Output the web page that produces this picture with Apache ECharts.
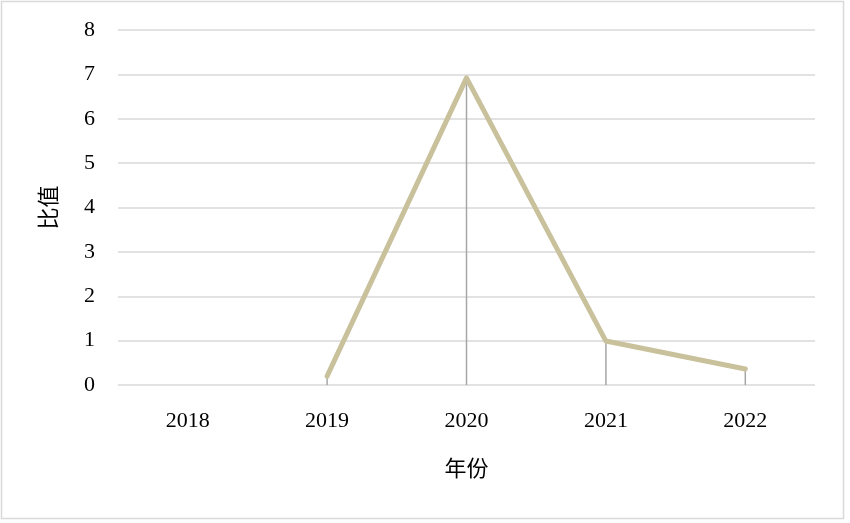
<!DOCTYPE html>
<html>
<head>
<meta charset="utf-8">
<style>
  html, body { margin: 0; padding: 0; background: #fff; }
  #chart { width: 850px; height: 523px; }
</style>
<script src="https://cdn.jsdelivr.net/npm/echarts@6/dist/echarts.min.js"></script>
</head>
<body>
<div id="chart"></div>
<script>
// Data
const years = ['2018', '2019', '2020', '2021', '2022'];
const ratios = [null, 0.2, 6.92, 0.99, 0.36];
const yTicks = { min: 0, max: 8, interval: 1 };

const serif = '"Liberation Serif", "Times New Roman", "Noto Sans CJK SC", serif';

const chart = echarts.init(document.getElementById('chart'));
chart.setOption({
    animation: false,
    graphic: [{
        type: 'rect',
        shape: { x: 1.5, y: 1.5, width: 842, height: 517 },
        style: { fill: 'none', stroke: '#d9d9d9', lineWidth: 1.5 },
        silent: true
    }],
    grid: { left: 118, right: 35, top: 30, bottom: 138 },
    xAxis: {
        type: 'category',
        data: years,
        boundaryGap: true,
        name: '年份',
        nameLocation: 'middle',
        nameGap: 74,
        nameTextStyle: { fontFamily: serif, fontSize: 22, color: '#000' },
        axisLine: { show: false },
        axisTick: { show: false },
        axisLabel: { fontFamily: serif, fontSize: 22, color: '#000', margin: 25 }
    },
    yAxis: {
        type: 'value',
        min: yTicks.min,
        max: yTicks.max,
        interval: yTicks.interval,
        name: '比值',
        nameLocation: 'middle',
        nameGap: 57,
        nameTextStyle: { fontFamily: serif, fontSize: 22, color: '#000' },
        axisLine: { show: false },
        axisTick: { show: false },
        axisLabel: { fontFamily: serif, fontSize: 22, color: '#000', margin: 23 },
        splitLine: { lineStyle: { color: '#d9d9d9', width: 1.5 } }
    },
    series: [
        {
            // drop lines from each point to the axis
            type: 'bar',
            data: ratios,
            barWidth: 1.5,
            itemStyle: { color: '#a6a6a6' },
            z: 1
        },
        {
            type: 'line',
            data: ratios,
            symbol: 'none',
            connectNulls: false,
            lineStyle: { color: '#c9c19b', width: 5, cap: 'round', join: 'round' },
            z: 2
        }
    ]
});
</script>
</body>
</html>
